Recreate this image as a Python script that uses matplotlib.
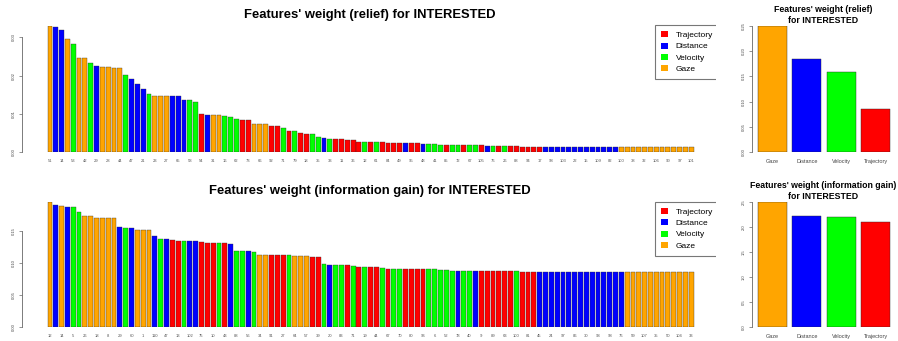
import matplotlib
matplotlib.use("Agg")
import matplotlib.pyplot as plt
from matplotlib.patches import Patch, Rectangle

plt.rcParams["font.family"] = ["Liberation Sans", "DejaVu Sans"]

W, H = 898, 341

CATEGORIES = ["Trajectory", "Distance", "Velocity", "Gaze"]
CAT_CODES = ["T", "D", "V", "G"]
COLORS = {"T": "#ff0000", "D": "#0000ff", "V": "#00ff00", "G": "#ffa500"}

# ── relief, per feature (sorted) ──
relief_values = [
    0.0330, 0.0327, 0.0319, 0.0296, 0.0282, 0.0245, 0.0245, 0.0232, 0.0226, 0.0222,
    0.0222, 0.0219, 0.0219, 0.0202, 0.0190, 0.0177, 0.0164, 0.0151, 0.0147, 0.0147,
    0.0147, 0.0147, 0.0147, 0.0136, 0.0136, 0.0131, 0.0101, 0.0097, 0.0097, 0.0097,
    0.0094, 0.0091, 0.0088, 0.0085, 0.0085, 0.0075, 0.0075, 0.0075, 0.0068, 0.0068,
    0.0064, 0.0055, 0.0055, 0.0050, 0.0047, 0.0047, 0.0041, 0.0037, 0.0035, 0.0034,
    0.0034, 0.0031, 0.0031, 0.0027, 0.0027, 0.0027, 0.0026, 0.0026, 0.0025, 0.0025,
    0.0024, 0.0024, 0.0023, 0.0023, 0.0022, 0.0021, 0.0021, 0.0020, 0.0020, 0.0020,
    0.0019, 0.0019, 0.0019, 0.0018, 0.0018, 0.0017, 0.0017, 0.0017, 0.0016, 0.0016,
    0.0016, 0.0015, 0.0015, 0.0015, 0.0015, 0.0014, 0.0014, 0.0014, 0.0014, 0.0014,
    0.0014, 0.0014, 0.0014, 0.0014, 0.0014, 0.0014, 0.0014, 0.0014, 0.0014, 0.0014,
    0.0014, 0.0014, 0.0014, 0.0014, 0.0014, 0.0014, 0.0014, 0.0014, 0.0014, 0.0014,
    0.0014,
]
relief_types = (
    "GDDGV" "GGVDG" "GGGVD" "DDVGG" "GDDDV" "VTDGG" "VVVTT" "GGGTT"
    "VTVTT" "VVDVT" "TTTTV" "TVTTT" "TDTTD" "VVVTV" "VTVVT" "DVTVT"
    "TTTTT" "DDDDDDDDDDDDD" "GGGGGGGGGGGGG"
)
relief_labels = [
    "51", "14", "53", "42", "29", "28", "44", "47", "21", "23", "27", "65", "58", "54",
    "31", "16", "62", "73", "66", "92", "71", "79", "18", "35", "33", "11", "36", "12",
    "61", "84", "49", "95", "48", "41", "85", "72", "67", "105", "76", "26", "88", "94",
    "17", "98", "103", "22", "15", "109", "82", "100", "38", "32", "106", "90", "97", "101",
]

# ── information gain, per feature (sorted) ──
ig_values = [
    0.196, 0.191, 0.190, 0.188, 0.187, 0.180, 0.173, 0.173, 0.171, 0.171,
    0.171, 0.171, 0.156, 0.155, 0.155, 0.151, 0.151, 0.151, 0.143, 0.137,
    0.137, 0.136, 0.135, 0.134, 0.134, 0.134, 0.133, 0.131, 0.131, 0.131,
    0.131, 0.129, 0.119, 0.119, 0.118, 0.117, 0.113, 0.113, 0.113, 0.113,
    0.113, 0.113, 0.111, 0.111, 0.111, 0.109, 0.109, 0.099, 0.097, 0.096,
    0.096, 0.096, 0.095, 0.094, 0.094, 0.094, 0.094, 0.092, 0.091, 0.091,
    0.091, 0.091, 0.091, 0.091, 0.090, 0.090, 0.090, 0.089, 0.089, 0.088,
    0.088, 0.0875, 0.0875, 0.0875, 0.0875, 0.0875, 0.0875, 0.0875, 0.0875, 0.0875,
    0.087, 0.086, 0.086, 0.086, 0.086, 0.086, 0.086, 0.086, 0.086, 0.086,
    0.086, 0.086, 0.086, 0.086, 0.086, 0.086, 0.086, 0.086, 0.086, 0.086,
    0.086, 0.086, 0.086, 0.086, 0.086, 0.086, 0.086, 0.086, 0.086, 0.086,
    0.086,
]
ig_types = (
    "GDGDV" "VGGGG" "GGDVD" "GGGDV" "DTTVD" "DTTTV" "TDVVD" "VGGTT"
    "TVGGG" "TTVDV" "VTVTV" "TTVTV" "VTTTT" "VVVVV" "DVVDT" "TTTTT"
    "VTTTD" "DDDDDDDDDDDDDD" "GGGGGGGGGGGG"
)
ig_labels = [
    "12", "14", "5", "26", "18", "8", "29", "60", "1", "110", "47", "13", "102", "75",
    "10", "43", "88", "56", "34", "91", "27", "64", "57", "39", "20", "83", "71", "19",
    "44", "67", "70", "80", "96", "6", "52", "78", "40", "9", "89", "63", "100", "81",
    "45", "24", "97", "86", "30", "93", "98", "76", "59", "107", "35", "50", "104", "33",
]

# ── weight summed per feature type ──
type_names = ["Gaze", "Distance", "Velocity", "Trajectory"]
type_colors = ["#ffa500", "#0000ff", "#00ff00", "#ff0000"]
relief_by_type = [0.250, 0.185, 0.1585, 0.085]
ig_by_type = [2.50, 2.215, 2.185, 2.095]


def px_axes(fig, left, top, right, bottom):
    return fig.add_axes([left / W, 1 - bottom / H, (right - left) / W, (bottom - top) / H])


def big_panel(ax, values, types, labels, yticks, ytick_labels):
    n = len(values)
    ax.bar(range(n), values, width=0.83, color=[COLORS[t] for t in types],
           edgecolor="#2a2a2a", linewidth=0.25)
    ax.set_xlim(-4.79, 110.99)
    ax.set_ylim(0, max(values))
    for s in ("top", "right", "bottom"):
        ax.spines[s].set_visible(False)
    ax.spines["left"].set_bounds(yticks[0], yticks[-1])
    ax.spines["left"].set_color("#666666")
    ax.spines["left"].set_linewidth(0.6)
    ax.set_yticks(yticks)
    ax.set_yticklabels(ytick_labels, rotation=90, va="center", fontsize=3, color="#444444")
    ax.tick_params(axis="y", length=2.5, width=0.5, color="#666666", pad=2)
    ax.set_xticks(range(0, n, 2))
    ax.set_xticklabels(labels, fontsize=3, color="#555555")
    ax.tick_params(axis="x", length=0, pad=5)
    handles = [Patch(facecolor=COLORS[c], edgecolor="none") for c in CAT_CODES]
    leg = ax.legend(handles, CATEGORIES, loc="upper left", fontsize=6,
                    handlelength=0.75, handleheight=0.75, handletextpad=1.0,
                    labelspacing=0.4, borderpad=0.75, fancybox=False,
                    edgecolor="#777777", framealpha=1)
    leg.get_frame().set_linewidth(0.8)
    return leg


def small_panel(ax, values, yticks, ytick_labels):
    ax.bar([0.7, 1.9, 3.1, 4.3], values, width=1.0, color=type_colors,
           edgecolor="#2a2a2a", linewidth=0.3)
    ax.set_xlim(0, 5.0)
    ax.set_ylim(0, yticks[-1])
    for s in ("top", "right", "bottom"):
        ax.spines[s].set_visible(False)
    ax.spines["left"].set_color("#666666")
    ax.spines["left"].set_linewidth(0.6)
    ax.set_yticks(yticks)
    ax.set_yticklabels(ytick_labels, rotation=90, va="center", fontsize=3, color="#444444")
    ax.tick_params(axis="y", length=2.5, width=0.5, color="#666666", pad=2)
    ax.set_xticks([0.7, 1.9, 3.1, 4.3])
    ax.set_xticklabels(type_names, fontsize=4, color="#444444")
    ax.tick_params(axis="x", length=0, pad=5)


fig = plt.figure(figsize=(W / 100, H / 100), dpi=100)

# top: relief
ax1 = px_axes(fig, 22, 25.7, 697, 152.3)
leg1 = big_panel(ax1, relief_values, relief_types, relief_labels,
                 [0, 0.01, 0.02, 0.03], ["0.00", "0.01", "0.02", "0.03"])
leg1.set_bbox_to_anchor((655 / W, 1 - 25 / H), transform=fig.transFigure)
leg1.borderaxespad = 0
fig.text(370 / W, 1 - 15 / H, "Features' weight (relief) for INTERESTED",
         ha="center", va="center", fontsize=9.4, fontweight="bold")

ax2 = px_axes(fig, 752, 25.7, 896, 152.3)
small_panel(ax2, relief_by_type, [0, 0.05, 0.10, 0.15, 0.20, 0.25],
            ["0.00", "0.05", "0.10", "0.15", "0.20", "0.25"])
fig.text(823 / W, 1 - 15 / H, "Features' weight (relief)\nfor INTERESTED",
         ha="center", va="center", fontsize=6.3, fontweight="bold", linespacing=1.15)

# bottom: information gain
ax3 = px_axes(fig, 22, 201.7, 697, 326.7)
leg3 = big_panel(ax3, ig_values, ig_types, ig_labels,
                 [0, 0.05, 0.10, 0.15], ["0.00", "0.05", "0.10", "0.15"])
leg3.set_bbox_to_anchor((655 / W, 1 - 201.7 / H), transform=fig.transFigure)
leg3.borderaxespad = 0
fig.text(370 / W, 1 - 191 / H, "Features' weight (information gain) for INTERESTED",
         ha="center", va="center", fontsize=9.4, fontweight="bold")

ax4 = px_axes(fig, 752, 201.7, 896, 326.7)
small_panel(ax4, ig_by_type, [0, 0.5, 1.0, 1.5, 2.0, 2.5],
            ["0.0", "0.5", "1.0", "1.5", "2.0", "2.5"])
fig.text(823 / W, 1 - 191 / H, "Features' weight (information gain)\nfor INTERESTED",
         ha="center", va="center", fontsize=6.3, fontweight="bold", linespacing=1.15)

# the legends run past the plot region and get cut off on the right
for y0, y1 in ((20, 85), (196, 260)):
    fig.patches.append(Rectangle((716 / W, 1 - y1 / H), 21 / W, (y1 - y0) / H,
                                 transform=fig.transFigure, facecolor="white",
                                 edgecolor="none", zorder=5))

fig.savefig("out.png", dpi=100)
